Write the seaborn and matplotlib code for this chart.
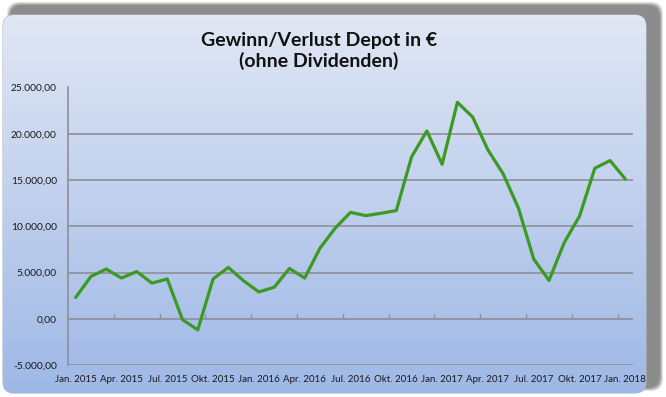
import numpy as np
import pandas as pd
import matplotlib
matplotlib.use("Agg")
import matplotlib.pyplot as plt
import seaborn as sns
from matplotlib.patches import FancyBboxPatch
from matplotlib.ticker import FuncFormatter, FixedLocator

# ---- data ----
title = "Gewinn/Verlust Depot in €\n(ohne Dividenden)"
tick_labels = ["Jan. 2015", "Apr. 2015", "Jul. 2015", "Okt. 2015",
               "Jan. 2016", "Apr. 2016", "Jul. 2016", "Okt. 2016",
               "Jan. 2017", "Apr. 2017", "Jul. 2017", "Okt. 2017",
               "Jan. 2018"]
values = [2300, 4570, 5370, 4400, 5100, 3850, 4300, -100, -1200, 4300,
          5550, 4100, 2900, 3400, 5430, 4400, 7630, 9800, 11500, 11150,
          11400, 11700, 17500, 20300, 16700, 23400, 21800, 18250, 15660,
          11950, 6450, 4140, 8240, 11100, 16270, 17100, 15100]
y_ticks = [-5000, 0, 5000, 10000, 15000, 20000, 25000]

df = pd.DataFrame({"monat": np.arange(len(values)), "wert": values})

sns.set_style("white")
plt.rcParams["font.family"] = ["Lato", "DejaVu Sans"]

W, H = 666, 397
fig = plt.figure(figsize=(W / 100, H / 100), dpi=100)
fig.patch.set_facecolor("white")

# ---- background frame ----
bg = fig.add_axes([0, 0, 1, 1], zorder=0)
bg.set_xlim(0, W)
bg.set_ylim(H, 0)
bg.axis("off")
for k, a in enumerate([0.25, 0.35, 0.5, 0.9]):
    g = 3 - k
    sh = FancyBboxPatch((10 - g, 5 - g), 650 + 2 * g, 383 + 2 * g,
                        boxstyle="round,pad=0,rounding_size=12",
                        facecolor="#8a8a8a", edgecolor="none", alpha=a)
    bg.add_patch(sh)
panel = FancyBboxPatch((3, 15), 643, 378,
                       boxstyle="round,pad=0,rounding_size=11",
                       facecolor="none", edgecolor="#b0b8c8", linewidth=0.8)
bg.add_patch(panel)
top = np.array([0xe1, 0xe7, 0xf4]) / 255
bot = np.array([0x9e, 0xb8, 0xe6]) / 255
t = np.linspace(0, 1, 256)[:, None]
grad = (top[None, :] * (1 - t) + bot[None, :] * t)[:, None, :]
im = bg.imshow(grad, extent=(3, 646, 393, 15), aspect="auto", zorder=1)
im.set_clip_path(panel)

# ---- plot area ----
left, right = 68 / W, 633 / W
bottom, topp = 1 - 365 / H, 1 - 87.5 / H
ax = fig.add_axes([left, bottom, right - left, topp - bottom], zorder=2)
ax.patch.set_alpha(0)

sns.lineplot(data=df, x="monat", y="wert", ax=ax, color="#3a9a22",
             linewidth=2.3, zorder=5)

ax.set_xlim(-0.5, len(values) - 0.5)
ax.set_ylim(-5000, 25000)
ax.set_yticks(y_ticks)
ax.yaxis.set_major_formatter(FuncFormatter(
    lambda v, p: f"{v:,.2f}".replace(",", "X").replace(".", ",").replace("X", ".")))
ax.set_xticks(np.arange(0, len(values), 3))
ax.set_xticklabels(tick_labels)
ax.set_xlabel("")
ax.set_ylabel("")
ax.tick_params(axis="x", length=0, pad=7, labelsize=7.0, colors="#1a1a1a")
ax.tick_params(axis="y", length=0, pad=8, labelsize=7.4, colors="#1a1a1a")

for v in y_ticks:
    ax.axhline(v, color="#8e8e98", linewidth=1.2, zorder=1)
for s in ["top", "right", "bottom"]:
    ax.spines[s].set_visible(False)
ax.spines["left"].set_color("#8e8e98")
ax.spines["left"].set_linewidth(1.2)

# category axis crossing at 0 with tick marks between categories
sec = ax.secondary_xaxis(5000 / 30000)
sec.xaxis.set_major_locator(FixedLocator(np.arange(2.5, len(values) - 1, 3)))
sec.tick_params(axis="x", direction="in", length=3.5, width=1.0,
                color="#8e8e98", labelbottom=False, labeltop=False)
sec.spines["bottom"].set_visible(False)
sec.spines["top"].set_visible(False)

fig.text(319 / W, 1 - 51 / H, title, ha="center", va="center",
         fontsize=14, fontweight="bold", color="#111111", linespacing=1.25)

fig.savefig("out.png", dpi=100)
